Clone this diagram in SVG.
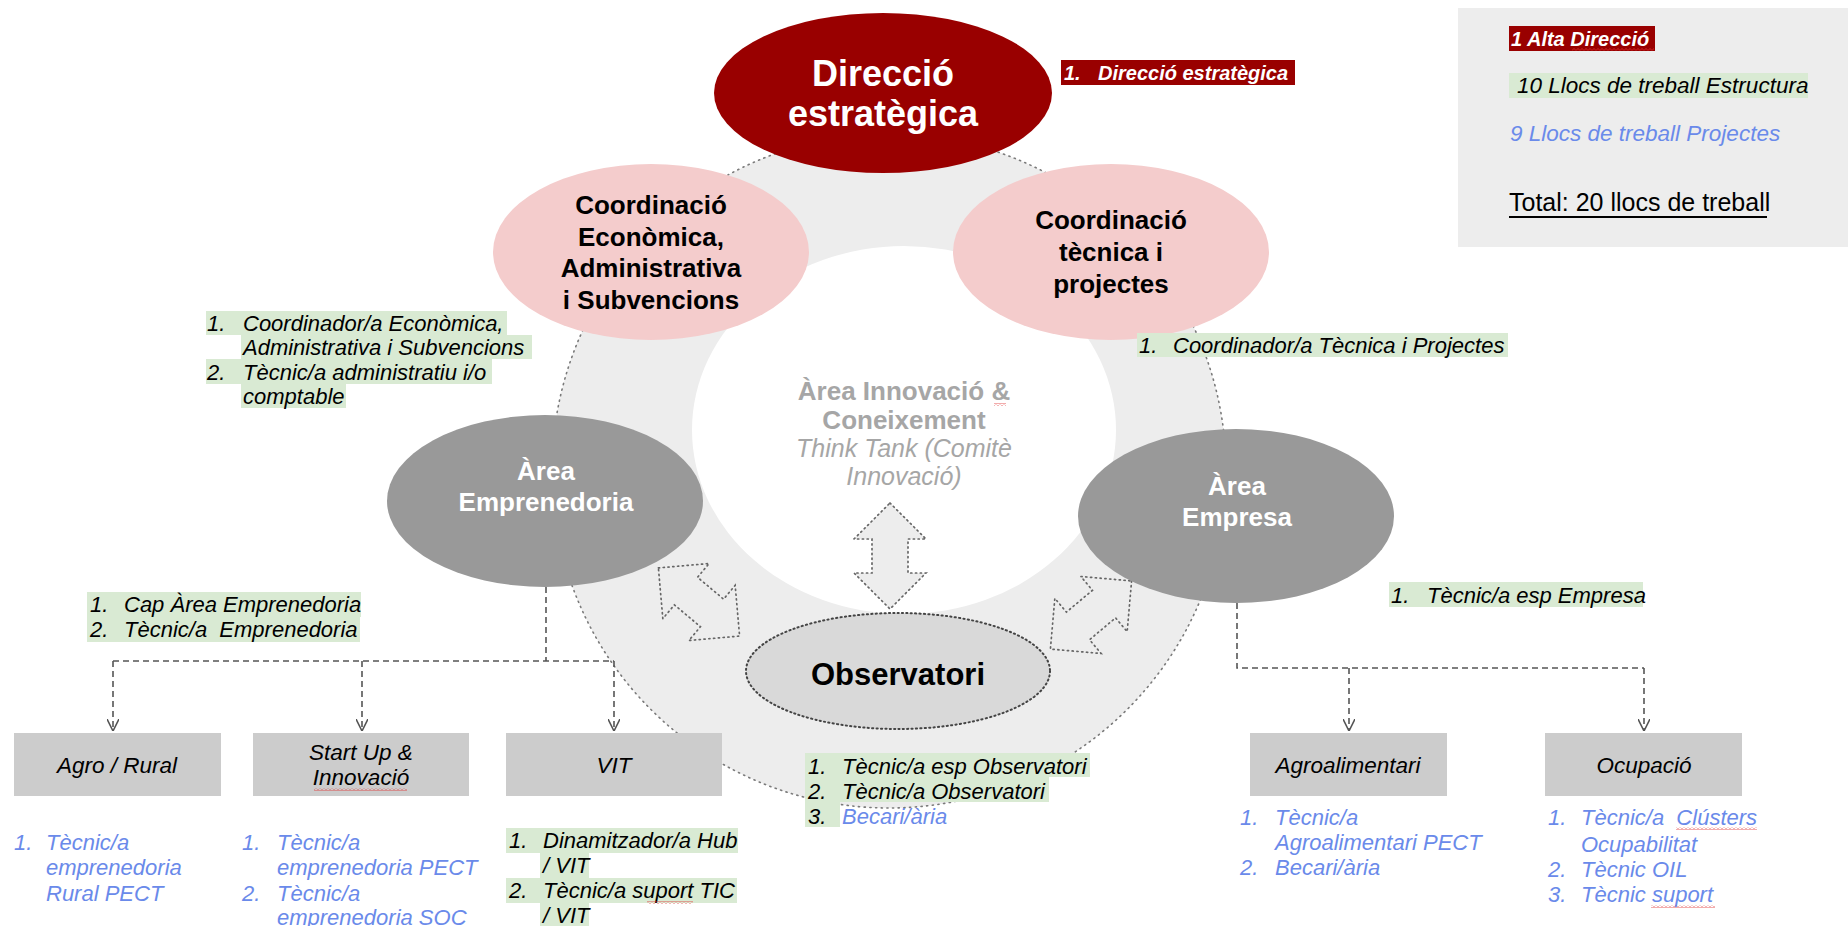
<svg xmlns="http://www.w3.org/2000/svg" width="1848" height="926" viewBox="0 0 1848 926">
<style>
text{font-family:"Liberation Sans",Arial,sans-serif;dominant-baseline:central}
.c{text-anchor:middle}
.b{font-weight:bold}
.i{font-style:italic}
.lst{font-style:italic;font-size:22px;fill:#000}
.blue{fill:#6A8AEA}
.hl{fill:#D9EAD3}
.box{fill:#CCCCCC}
.bt{font-style:italic;font-size:22.5px;fill:#000;text-anchor:middle}
.dash{fill:none;stroke:#555;stroke-width:1.6;stroke-dasharray:6 4}
.darr{fill:#EDEDED;stroke:#666;stroke-width:1.7;stroke-dasharray:1.2 3.6;stroke-linecap:round}
.sq{fill:url(#squig)}
</style>
<defs>
<marker id="ah" viewBox="0 0 12 12" refX="12" refY="6" markerWidth="12" markerHeight="12" markerUnits="userSpaceOnUse" orient="auto">
<path d="M0,0 L12,6 L0,12" fill="none" stroke="#555" stroke-width="1.6" stroke-dasharray="none"/>
</marker>
<pattern id="squig" width="4" height="3" patternUnits="userSpaceOnUse">
<path d="M0,2.5 L2,0.5 L4,2.5" fill="none" stroke="#E03030" stroke-width="0.8"/>
</pattern>
<path id="dbl" d="M0,-53 L36,-17 L18,-17 L18,17 L36,17 L0,53 L-36,17 L-18,17 L-18,-17 L-36,-17 Z"/>
</defs>
<rect width="1848" height="926" fill="#FFFFFF"/>

<g id="ring">
<circle cx="889" cy="471" r="337" fill="#EDEDED" stroke="#7A7A7A" stroke-width="1.6" stroke-dasharray="1.2 4.5" stroke-linecap="round"/>
<ellipse cx="904" cy="430" rx="212" ry="184" fill="#FFFFFF"/>
</g>

<g id="innovacio">
<text class="c b" x="904" y="391" font-size="26" fill="#A6A6A6">Àrea Innovació &amp;</text>
<text class="c b" x="904" y="420" font-size="26" fill="#A6A6A6">Coneixement</text>
<text class="c i" x="904" y="448" font-size="25" fill="#A6A6A6">Think Tank (Comitè</text>
<text class="c i" x="904" y="476" font-size="25" fill="#A6A6A6">Innovació)</text>
<rect class="sq" x="994" y="403" width="12" height="3"/>
</g>

<g id="arrows">
<use href="#dbl" class="darr" transform="translate(890,556)"/>
<use href="#dbl" class="darr" transform="translate(699,602) rotate(-50)"/>
<use href="#dbl" class="darr" transform="translate(1091,615) rotate(50)"/>
</g>

<g id="connectors">
<path class="dash" d="M546,587 V661 M113,661 H614 M1237,603 V668 H1644"/>
<path class="dash" d="M113,661 V731" marker-end="url(#ah)"/>
<path class="dash" d="M362,661 V731" marker-end="url(#ah)"/>
<path class="dash" d="M614,661 V731" marker-end="url(#ah)"/>
<path class="dash" d="M1349,668 V731" marker-end="url(#ah)"/>
<path class="dash" d="M1644,668 V731" marker-end="url(#ah)"/>
</g>

<g id="direccio">
<ellipse cx="883" cy="93" rx="169" ry="80" fill="#990000"/>
<text class="c b" x="883" y="73" font-size="36" fill="#FFFFFF">Direcció</text>
<text class="c b" x="883" y="113" font-size="36" fill="#FFFFFF">estratègica</text>
</g>
<g id="direccio-list">
<rect x="1061" y="60" width="234" height="25" fill="#990000"/>
<text class="b i" x="1064" y="72.5" font-size="20" fill="#FFFFFF">1.</text>
<text class="b i" x="1098" y="72.5" font-size="20" fill="#FFFFFF">Direcció estratègica</text>
</g>

<g id="legend">
<rect x="1458" y="8" width="390" height="239" fill="#EDEDED"/>
<rect x="1509" y="26" width="146" height="25" fill="#990000"/>
<text class="b i" x="1511" y="38.5" font-size="20" fill="#FFFFFF">1 Alta Direcció</text>
<rect class="sq" x="1572" y="48" width="82" height="3"/>
<rect class="hl" x="1509" y="73" width="299" height="25"/>
<text class="i" x="1517" y="85.5" font-size="22.5" fill="#000">10 Llocs de treball Estructura</text>
<text class="i" x="1510" y="133" font-size="22.5" fill="#6A8AEA">9 Llocs de treball Projectes</text>
<text x="1509" y="202" font-size="25" fill="#000">Total: 20 llocs de treball</text>
<line x1="1509" y1="217" x2="1767" y2="217" stroke="#000" stroke-width="2"/>
</g>

<g id="coord-economica">
<ellipse cx="651" cy="252" rx="158" ry="88" fill="#F4CCCC"/>
<text class="c b" x="651" y="205" font-size="26" fill="#000">Coordinació</text>
<text class="c b" x="651" y="237" font-size="26" fill="#000">Econòmica,</text>
<text class="c b" x="651" y="268" font-size="26" fill="#000">Administrativa</text>
<text class="c b" x="651" y="300" font-size="26" fill="#000">i Subvencions</text>
</g>
<g id="coord-economica-list">
<rect class="hl" x="206" y="311" width="301" height="24"/>
<rect class="hl" x="241" y="335" width="291" height="24"/>
<rect class="hl" x="206" y="359" width="286" height="25"/>
<rect class="hl" x="241" y="384" width="105" height="24"/>
<text class="lst" x="207" y="323">1.</text>
<text class="lst" x="243" y="323">Coordinador/a Econòmica,</text>
<text class="lst" x="243" y="347">Administrativa i Subvencions</text>
<text class="lst" x="207" y="372">2.</text>
<text class="lst" x="243" y="372">Tècnic/a administratiu i/o</text>
<text class="lst" x="243" y="396">comptable</text>
</g>

<g id="coord-tecnica">
<ellipse cx="1111" cy="252" rx="158" ry="88" fill="#F4CCCC"/>
<text class="c b" x="1111" y="220" font-size="26" fill="#000">Coordinació</text>
<text class="c b" x="1111" y="252" font-size="26" fill="#000">tècnica i</text>
<text class="c b" x="1111" y="284" font-size="26" fill="#000">projectes</text>
</g>
<g id="coord-tecnica-list">
<rect class="hl" x="1137" y="333" width="371" height="24"/>
<text class="lst" x="1139" y="345">1.</text>
<text class="lst" x="1173" y="345">Coordinador/a Tècnica i Projectes</text>
</g>

<g id="area-emprenedoria">
<ellipse cx="545" cy="501" rx="158" ry="86" fill="#999999"/>
<text class="c b" x="546" y="471" font-size="26" fill="#FFFFFF">Àrea</text>
<text class="c b" x="546" y="502" font-size="26" fill="#FFFFFF">Emprenedoria</text>
</g>
<g id="emprenedoria-list">
<rect class="hl" x="87" y="592" width="274" height="25"/>
<rect class="hl" x="87" y="617" width="273" height="25"/>
<text class="lst" x="90" y="604">1.</text>
<text class="lst" x="124" y="604">Cap Àrea Emprenedoria</text>
<text class="lst" x="90" y="629">2.</text>
<text class="lst" x="124" y="629" xml:space="preserve">Tècnic/a  Emprenedoria</text>
</g>

<g id="area-empresa">
<ellipse cx="1236" cy="516" rx="158" ry="87" fill="#999999"/>
<text class="c b" x="1237" y="486" font-size="26" fill="#FFFFFF">Àrea</text>
<text class="c b" x="1237" y="517" font-size="26" fill="#FFFFFF">Empresa</text>
</g>
<g id="empresa-list">
<rect class="hl" x="1389" y="582" width="254" height="25"/>
<text class="lst" x="1391" y="595">1.</text>
<text class="lst" x="1427" y="595">Tècnic/a esp Empresa</text>
</g>

<g id="observatori">
<ellipse cx="898" cy="671" rx="152" ry="58" fill="#D9D9D9" stroke="#444" stroke-width="2" stroke-dasharray="1.2 3.2" stroke-linecap="round"/>
<text class="c b" x="898" y="674" font-size="31" fill="#000">Observatori</text>
</g>
<g id="observatori-list">
<rect class="hl" x="805" y="753" width="285" height="24"/>
<rect class="hl" x="805" y="777" width="244" height="25"/>
<rect class="hl" x="805" y="802" width="35" height="25"/>
<text class="lst" x="808" y="766">1.</text>
<text class="lst" x="842" y="766">Tècnic/a esp Observatori</text>
<text class="lst" x="808" y="791">2.</text>
<text class="lst" x="842" y="791">Tècnic/a Observatori</text>
<text class="lst" x="808" y="816">3.</text>
<text class="lst blue" x="842" y="816">Becari/ària</text>
</g>

<g id="agro-rural">
<rect class="box" x="14" y="733" width="207" height="63"/>
<text class="bt" x="117" y="765">Agro / Rural</text>
</g>
<g id="agro-rural-list">
<text class="lst blue" x="14" y="842">1.</text>
<text class="lst blue" x="46" y="842">Tècnic/a</text>
<text class="lst blue" x="46" y="867">emprenedoria</text>
<text class="lst blue" x="46" y="893">Rural PECT</text>
</g>

<g id="startup">
<rect class="box" x="253" y="733" width="216" height="63"/>
<text class="bt" x="361" y="752">Start Up &amp;</text>
<text class="bt" x="361" y="777">Innovació</text>
<rect class="sq" x="314" y="788" width="93" height="3"/>
</g>
<g id="startup-list">
<text class="lst blue" x="242" y="842">1.</text>
<text class="lst blue" x="277" y="842">Tècnic/a</text>
<text class="lst blue" x="277" y="867">emprenedoria PECT</text>
<text class="lst blue" x="242" y="893">2.</text>
<text class="lst blue" x="277" y="893">Tècnic/a</text>
<text class="lst blue" x="277" y="917">emprenedoria SOC</text>
</g>

<g id="vit">
<rect class="box" x="506" y="733" width="216" height="63"/>
<text class="bt" x="614" y="765">VIT</text>
</g>
<g id="vit-list">
<rect class="hl" x="506" y="828" width="232" height="25"/>
<rect class="hl" x="540" y="853" width="49" height="25"/>
<rect class="hl" x="506" y="878" width="231" height="25"/>
<rect class="hl" x="540" y="903" width="49" height="23"/>
<text class="lst" x="509" y="840">1.</text>
<text class="lst" x="543" y="840">Dinamitzador/a Hub</text>
<text class="lst" x="543" y="865">/ VIT</text>
<text class="lst" x="509" y="890">2.</text>
<text class="lst" x="543" y="890">Tècnic/a suport TIC</text>
<text class="lst" x="543" y="915">/ VIT</text>
<rect class="sq" x="647" y="901" width="46" height="3"/>
</g>

<g id="agroalimentari">
<rect class="box" x="1250" y="733" width="197" height="63"/>
<text class="bt" x="1348" y="765">Agroalimentari</text>
</g>
<g id="agroalimentari-list">
<text class="lst blue" x="1240" y="817">1.</text>
<text class="lst blue" x="1275" y="817">Tècnic/a</text>
<text class="lst blue" x="1275" y="842">Agroalimentari PECT</text>
<text class="lst blue" x="1240" y="867">2.</text>
<text class="lst blue" x="1275" y="867">Becari/ària</text>
</g>

<g id="ocupacio">
<rect class="box" x="1545" y="733" width="197" height="63"/>
<text class="bt" x="1644" y="765">Ocupació</text>
</g>
<g id="ocupacio-list">
<text class="lst blue" x="1548" y="817">1.</text>
<text class="lst blue" x="1581" y="817" xml:space="preserve">Tècnic/a  Clústers</text>
<rect class="sq" x="1676" y="827" width="81" height="3"/>
<text class="lst blue" x="1581" y="844">Ocupabilitat</text>
<text class="lst blue" x="1548" y="869">2.</text>
<text class="lst blue" x="1581" y="869">Tècnic OIL</text>
<text class="lst blue" x="1548" y="894">3.</text>
<text class="lst blue" x="1581" y="894">Tècnic suport</text>
<rect class="sq" x="1651" y="905" width="64" height="3"/>
</g>
</svg>
